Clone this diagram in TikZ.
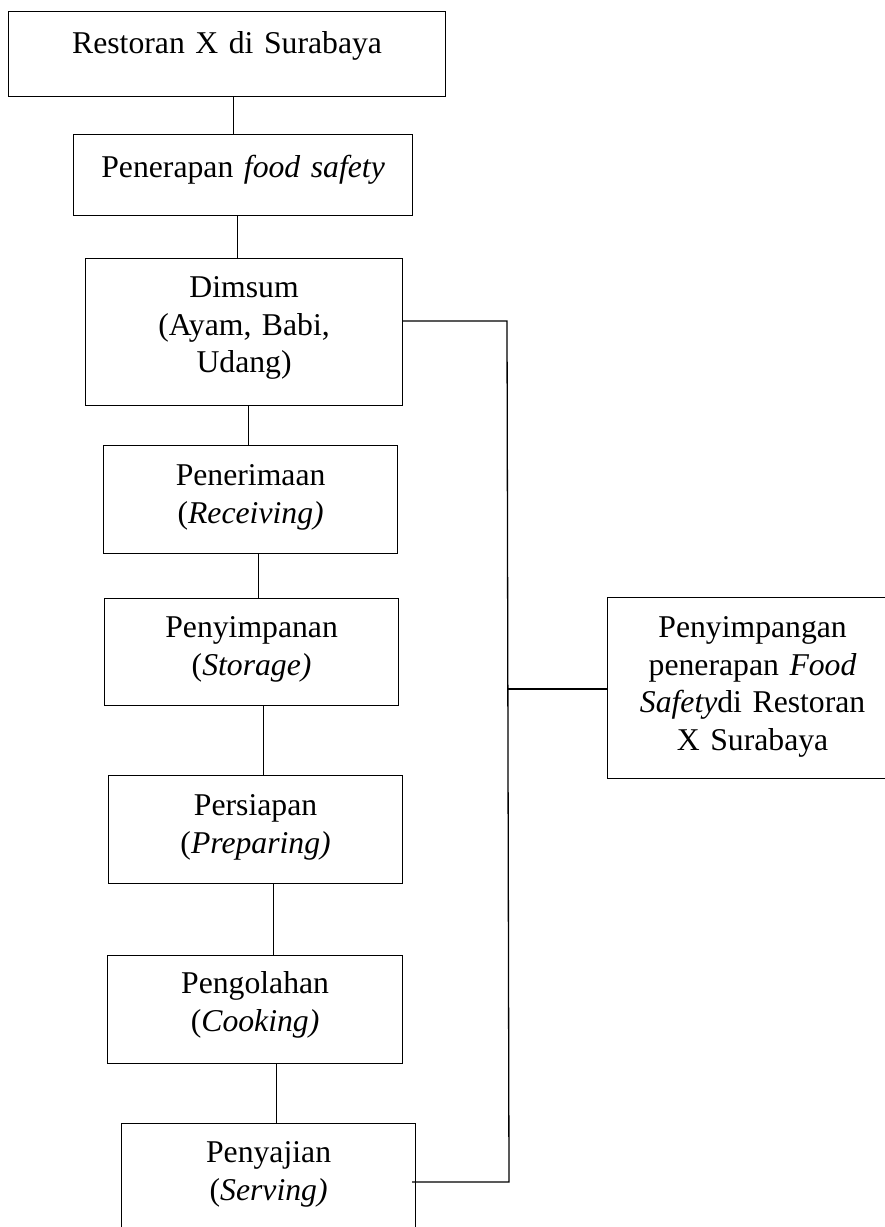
\documentclass[tikz,border=0pt]{standalone}
\usepackage{fontspec}
\setmainfont{Liberation Serif}
\usepackage{tikz}
\usetikzlibrary{positioning}
\usetikzlibrary{calc}
\tikzstyle{kotak}=[rectangle,draw=black,line width=1.2pt,inner sep=0pt,anchor=north west,align=center,font=\fontsize{31.7}{37.5}\selectfont]
\tikzstyle{undirectededge} = [draw,line width=1.3pt]

\begin{document}
\begin{tikzpicture}[x=1pt,y=-1pt]

  \useasboundingbox (0,0) rectangle (885,1227);
  \clip (0,0) rectangle (885,1227);

   \foreach \x/\y/\w/\th/\td/\name/\label in {8/11/437/42/43/restoran/{Restoran X di Surabaya}, 73/134/339/43/38/penerapan/{Penerapan \textit{food safety}}, 85/258/317/39/108/dimsum/{Dimsum\\(Ayam, Babi,\\Udang)}}
          \node[kotak, text width=\w pt, text height=\th pt, text depth=\td pt] (\name) at (\x,\y) {\label};

   \foreach \x/\y/\w/\th/\td/\name/\label in {103/445/294/40/68/receiving/{Penerimaan\\(\textit{Receiving)}}, 104/598/294/39/68/storage/{Penyimpanan\\(\textit{Storage)}}, 108/775/294/40/68/preparing/{Persiapan\\(\textit{Preparing)}}}
          \node[kotak, text width=\w pt, text height=\th pt, text depth=\td pt] (\name) at (\x,\y) {\label};

   \foreach \x/\y/\w/\th/\td/\name/\label in {107/955/295/38/70/cooking/{Pengolahan\\(\textit{Cooking)}}, 121/1123/294/39/72/serving/{Penyajian\\(\textit{Serving)}}, 607/597/290/40/141/penyimpangan/{Penyimpangan\\penerapan \textit{Food}\\\textit{Safety}di Restoran\\X Surabaya}}
          \node[kotak, text width=\w pt, text height=\th pt, text depth=\td pt] (\name) at (\x,\y) {\label};

  \foreach \source/ \dest /\dx in {restoran/penerapan/6.5, penerapan/dimsum/-5.5, dimsum/receiving/4.5, receiving/storage/8, storage/preparing/12, preparing/cooking/18, cooking/serving/21.5}
         \path[undirectededge] ([xshift=\dx]\source.south) -- ([xshift=\dx]\source.south |- \dest.north);

%bus
  \coordinate (busatas) at (507,321);
  \coordinate (bustengah) at (508,689);
  \coordinate (busbawah) at (509,1182);

  \path[undirectededge] (dimsum.east |- busatas) -- (busatas) -- (busbawah) -- ([xshift=-4]serving.east |- busbawah);
  \path[undirectededge] (bustengah) -- (penyimpangan.west |- bustengah);

\end{tikzpicture}
\end{document}
